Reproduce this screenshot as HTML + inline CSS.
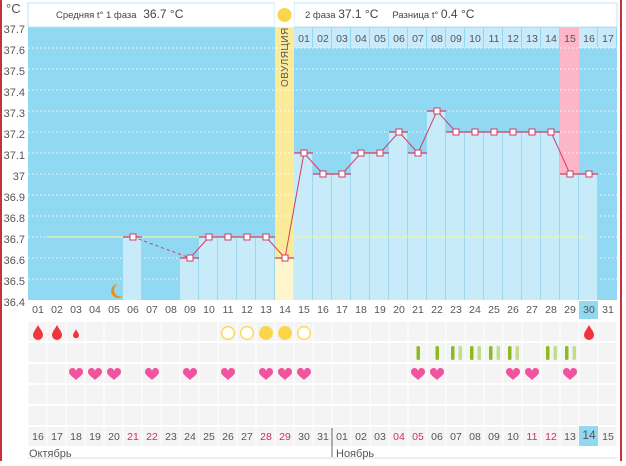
<!DOCTYPE html>
<html><head><meta charset="utf-8"><style>
body{margin:0;width:626px;height:461px;overflow:hidden;background:#fff;font-family:"Liberation Sans","DejaVu Sans",sans-serif}
svg text{font-family:"Liberation Sans","DejaVu Sans",sans-serif}
</style></head><body>
<svg id="s" width="626" height="461" xmlns="http://www.w3.org/2000/svg">
<rect x="0" y="0" width="2" height="461" fill="#c8303a"/>
<rect x="620" y="0" width="2" height="461" fill="#c8303a"/>
<rect x="28" y="27" width="589" height="273" fill="#91d8f2"/>
<g id="bg"></g>
<rect x="28" y="3" width="247" height="24" fill="#fff" stroke="#bfe6f4"/>
<rect x="294" y="3" width="323" height="24" fill="#fff" stroke="#bfe6f4"/>
<rect x="275" y="3" width="19" height="24" fill="#fff"/>
<circle cx="284.5" cy="15" r="7" fill="#fbd64a"/>
<text x="6" y="13" font-size="13" fill="#555">°C</text>
<text x="56" y="18" font-size="9.5" fill="#444">Средняя t° 1 фаза <tspan font-size="12" dx="4">36.7 °C</tspan></text>
<text x="305" y="18" font-size="9.5" fill="#444">2 фаза <tspan font-size="12">37.1 °C</tspan><tspan dx="14">Разница t°</tspan> <tspan font-size="12">0.4 °C</tspan></text>
<text transform="translate(288,87) rotate(-90)" font-size="10" fill="#555" letter-spacing="0.5">ОВУЛЯЦИЯ</text>
<g font-size="11" fill="#555" text-anchor="end">
<text x="25" y="33">37.7</text><text x="25" y="54">37.6</text><text x="25" y="75">37.5</text><text x="25" y="96">37.4</text><text x="25" y="117">37.3</text><text x="25" y="138">37.2</text><text x="25" y="159">37.1</text><text x="25" y="180">37</text><text x="25" y="201">36.9</text><text x="25" y="222">36.8</text><text x="25" y="243">36.7</text><text x="25" y="264">36.6</text><text x="25" y="285">36.5</text><text x="25" y="306">36.4</text>
</g>
<g font-size="10.5" fill="#555" text-anchor="middle">
<text x="304" y="42">01</text><text x="323" y="42">02</text><text x="342" y="42">03</text><text x="361" y="42">04</text><text x="380" y="42">05</text><text x="399" y="42">06</text><text x="418" y="42">07</text><text x="437" y="42">08</text><text x="456" y="42">09</text><text x="475" y="42">10</text><text x="494" y="42">11</text><text x="513" y="42">12</text><text x="532" y="42">13</text><text x="551" y="42">14</text><text x="570" y="42">15</text><text x="589" y="42">16</text><text x="608" y="42">17</text>
</g>
<g id="fg"></g>
<g font-size="10.5" fill="#555" text-anchor="middle">
<text x="38" y="313">01</text><text x="57" y="313">02</text><text x="76" y="313">03</text><text x="95" y="313">04</text><text x="114" y="313">05</text><text x="133" y="313">06</text><text x="152" y="313">07</text><text x="171" y="313">08</text><text x="190" y="313">09</text><text x="209" y="313">10</text><text x="228" y="313">11</text><text x="247" y="313">12</text><text x="266" y="313">13</text><text x="285" y="313">14</text><text x="304" y="313">15</text><text x="323" y="313">16</text><text x="342" y="313">17</text><text x="361" y="313">18</text><text x="380" y="313">19</text><text x="399" y="313">20</text><text x="418" y="313">21</text><text x="437" y="313">22</text><text x="456" y="313">23</text><text x="475" y="313">24</text><text x="494" y="313">25</text><text x="513" y="313">26</text><text x="532" y="313">27</text><text x="551" y="313">28</text><text x="570" y="313">29</text><text x="589" y="313">30</text><text x="608" y="313">31</text>
</g>
<g font-size="10.5" fill="#555" text-anchor="middle">
<text x="38" y="440">16</text><text x="57" y="440">17</text><text x="76" y="440">18</text><text x="95" y="440">19</text><text x="114" y="440">20</text><text x="133" y="440" fill="#d0305a">21</text><text x="152" y="440" fill="#d0305a">22</text><text x="171" y="440">23</text><text x="190" y="440">24</text><text x="209" y="440">25</text><text x="228" y="440">26</text><text x="247" y="440">27</text><text x="266" y="440" fill="#d0305a">28</text><text x="285" y="440" fill="#d0305a">29</text><text x="304" y="440">30</text><text x="323" y="440">31</text><text x="342" y="440">01</text><text x="361" y="440">02</text><text x="380" y="440">03</text><text x="399" y="440" fill="#d0305a">04</text><text x="418" y="440" fill="#d0305a">05</text><text x="437" y="440">06</text><text x="456" y="440">07</text><text x="475" y="440">08</text><text x="494" y="440">09</text><text x="513" y="440">10</text><text x="532" y="440" fill="#d0305a">11</text><text x="551" y="440" fill="#d0305a">12</text><text x="570" y="440">13</text><text x="589" y="439" font-size="12">14</text><text x="608" y="440">15</text>
</g>
<line x1="332" y1="428" x2="332" y2="457" stroke="#666"/>
<line x1="28" y1="458" x2="617" y2="458" stroke="#ddd"/>
<text x="29" y="457" font-size="11" fill="#555">Октябрь</text>
<text x="336" y="457" font-size="11" fill="#555">Ноябрь</text>
</svg>
<script>
const NS="http://www.w3.org/2000/svg",bg=document.getElementById('bg'),fg=document.getElementById('fg');
function el(p,t,a){const e=document.createElementNS(NS,t);for(const k in a)e.setAttribute(k,a[k]);p.appendChild(e);return e;}
const X=i=>28+19*(i-1), C=i=>38+19*(i-1), Y=t=>300-(t-36.4)*210;
const T={6:36.7,9:36.6,10:36.7,11:36.7,12:36.7,13:36.7,14:36.6,15:37.1,16:37.0,17:37.0,18:37.1,19:37.1,20:37.2,21:37.1,22:37.3,23:37.2,24:37.2,25:37.2,26:37.2,27:37.2,28:37.2,29:37.0,30:37.0};
el(bg,'rect',{x:X(14),y:3,width:19,height:297,fill:'#fbeb98'});
el(bg,'rect',{x:X(29),y:27,width:19,height:273,fill:'#fdb6c8'});
for(let i=15;i<=31;i++){el(bg,'rect',{x:X(i),y:28,width:18,height:20,fill:i==29?'#fdb6c8':'#c9eafa'});}
for(let k=0;k<13;k++){el(bg,'line',{x1:28,x2:617,y1:Y(37.7-k*0.1),y2:Y(37.7-k*0.1),stroke:'#fff','stroke-dasharray':'1.5 2.5','stroke-opacity':0.9});}
for(const d in T){const i=+d;el(bg,'rect',{x:X(i),y:Y(T[d]),width:18,height:300-Y(T[d]),fill:i==14?'#fdf5cc':'#c8ebfa'});}
for(const d in T){const i=+d;if(i!=14)el(bg,'line',{x1:X(i)+18.5,x2:X(i)+18.5,y1:Y(T[d]),y2:300,stroke:'#9fd6ec'});}
el(fg,'line',{x1:47,x2:587,y1:Y(36.7),y2:Y(36.7),stroke:'#eef2a0','stroke-width':1.2});
for(const d in T){const i=+d;el(fg,'line',{x1:X(i),x2:X(i)+19,y1:Y(T[d]),y2:Y(T[d]),stroke:'#d23c66','stroke-width':1.2});}
el(fg,'line',{x1:C(6),y1:Y(36.7),x2:C(9),y2:Y(36.6),stroke:'#d23c66','stroke-dasharray':'3 3'});
let pts=[];for(let i=9;i<=30;i++)pts.push(C(i)+','+Y(T[i]));
el(fg,'polyline',{points:pts.join(' '),fill:'none',stroke:'#d23c66','stroke-width':1});
for(const d in T){el(fg,'rect',{x:C(+d)-3,y:Y(T[d])-3,width:6,height:6,fill:'#fff',stroke:'#d23c66','stroke-width':1});}
el(fg,'path',{d:'M118 284 a7 7 0 1 0 5 12 a6 6 0 0 1 -5 -12z',fill:'#e98f1a'});
el(bg,'rect',{x:X(30),y:301,width:19,height:18,fill:'#91d8f2'});
for(let r=0;r<6;r++){const y=322+r*21;for(let i=1;i<=31;i++){
 if(r==5&&i==30){el(bg,'rect',{x:X(i),y:y-1,width:19,height:20,fill:'#91d8f2'});continue;}
 el(bg,'rect',{x:X(i)+0.5,y:y,width:18,height:19,fill:'#f4f4f4'});}}
function drop(cx,cy,s){el(fg,'path',{d:`M${cx} ${cy-8*s} C${cx+2*s} ${cy-4*s} ${cx+5*s} ${cy-1*s} ${cx+5*s} ${cy+2*s} A${5*s} ${5*s} 0 0 1 ${cx-5*s} ${cy+2*s} C${cx-5*s} ${cy-1*s} ${cx-2*s} ${cy-4*s} ${cx} ${cy-8*s}z`,fill:'#f0353f'});}
drop(38,333,1);drop(57,333,1);drop(76,334,0.6);drop(589,333,1);
[[11,0],[12,0],[13,1],[14,1],[15,0]].forEach(([i,f])=>el(fg,'circle',{cx:C(i),cy:333,r:6.3,fill:f?'#fbd64a':'#fff',stroke:'#fbd64a','stroke-width':1.3}));
[21,22,23,24,25,26,28,29].forEach(i=>{el(fg,'rect',{x:C(i)-(i<=22?1.5:5),y:346,width:3.5,height:14,rx:1.5,fill:'#8dbb1f'});if(i>22)el(fg,'rect',{x:C(i)+2.5,y:346,width:3.5,height:14,rx:1.5,fill:'#c3dd8f'});});
[3,4,5,7,9,11,13,14,15,21,22,26,27,29].forEach(i=>{const c=C(i),y=374;el(fg,'path',{d:`M${c} ${y+6} C${c-3} ${y+3} ${c-7} ${y+1} ${c-7} ${y-2} A3.5 3.5 0 0 1 ${c} ${y-3} A3.5 3.5 0 0 1 ${c+7} ${y-2} C${c+7} ${y+1} ${c+3} ${y+3} ${c} ${y+6}z`,fill:'#f2539f'});});
</script>
</body></html>
